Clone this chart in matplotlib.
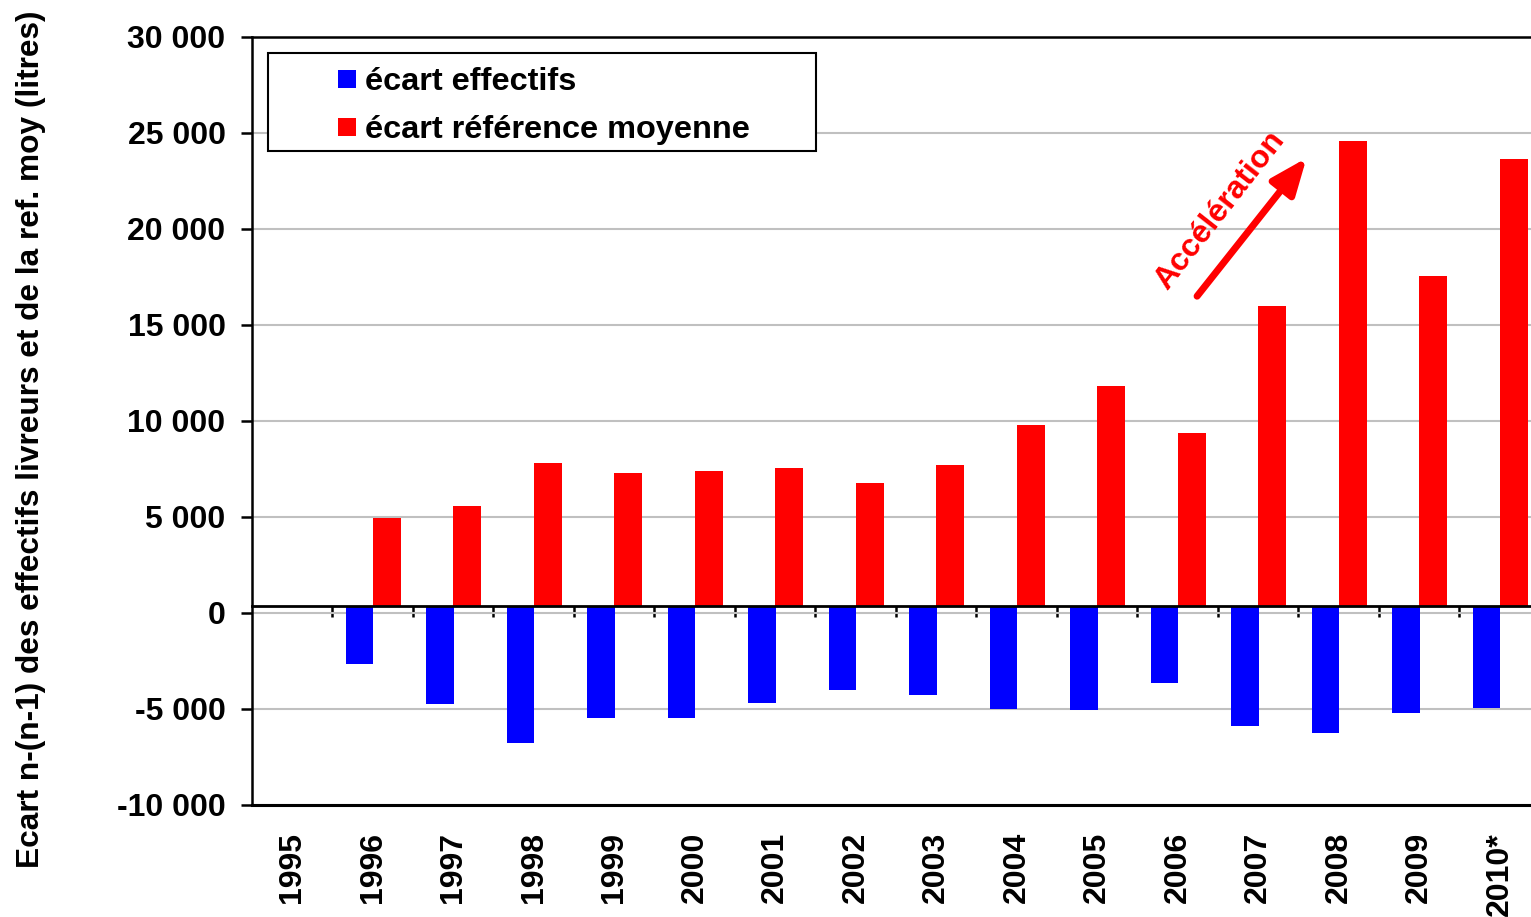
import matplotlib
matplotlib.use("Agg")
import matplotlib.pyplot as plt
from matplotlib.patches import Rectangle
from matplotlib.ticker import FixedLocator, FuncFormatter
import numpy as np

plt.rcParams['font.family'] = ['Liberation Sans', 'DejaVu Sans']
plt.rcParams['font.weight'] = 'bold'

years = ["1995", "1996", "1997", "1998", "1999", "2000", "2001", "2002", "2003",
         "2004", "2005", "2006", "2007", "2008", "2009", "2010*"]
ecart_effectifs = [np.nan, -2650, -4720, -6770, -5470, -5470, -4690, -4010, -4270,
                   -5000, -5050, -3650, -5870, -6230, -5190, -4930]
ecart_reference = [np.nan, 4950, 5570, 7810, 7290, 7400, 7550, 6770, 7710,
                   9790, 11820, 9380, 15990, 24580, 17550, 23650]
label_eff = "écart effectifs"
label_ref = "écart référence moyenne"
ylabel = "Ecart n-(n-1) des effectifs livreurs et de la ref. moy (litres)"
annot = "Accélération"
yticks = [-10000, -5000, 0, 5000, 10000, 15000, 20000, 25000, 30000]
cross = 350  # value where the category axis crosses

FS = 23

W, H = 1531, 917
fig = plt.figure(figsize=(W / 100, H / 100), dpi=100)
left, right, top, bottom = 252, 1540, 37, 805
ax = fig.add_axes([left / W, 1 - bottom / H, (right - left) / W, (bottom - top) / H])

x = np.arange(len(years))
w = 0.345
eff = np.array(ecart_effectifs, dtype=float)
ref = np.array(ecart_reference, dtype=float)
ax.bar(x - 0.165, eff - cross, bottom=cross, width=w, color='#0000FF', zorder=3)
ax.bar(x + 0.175, ref - cross, bottom=cross, width=w, color='#FF0000', zorder=3)

ax.set_xlim(-0.5, len(years) - 0.5)
ax.set_ylim(-10000, 30000)

# grid
ax.yaxis.set_major_locator(FixedLocator(yticks))
ax.grid(axis='y', color='#c0c0c0', linewidth=1.5, zorder=0)
ax.set_axisbelow(True)
ax.yaxis.set_major_formatter(FuncFormatter(lambda v, p: f"{int(v):,}".replace(",", " ")))
ax.tick_params(axis='y', direction='out', length=8, width=1.8, pad=11,
               labelsize=FS)
for lab in ax.get_yticklabels():
    lab.set_fontweight('bold')

# spines
for s in ['left', 'top']:
    ax.spines[s].set_linewidth(1.8)
    ax.spines[s].set_color('black')
ax.spines['right'].set_visible(False)
ax.spines['bottom'].set_position(('data', cross))
ax.spines['bottom'].set_linewidth(2.0)
ax.spines['bottom'].set_zorder(4)
ax.axhline(-10000, color='black', linewidth=2.2, clip_on=False, zorder=5)

# category axis ticks at boundaries
ax.xaxis.set_major_locator(FixedLocator(np.arange(0.5, len(years) - 0.5, 1.0)))
ax.xaxis.set_major_formatter(FuncFormatter(lambda v, p: ""))
ax.tick_params(axis='x', direction='out', length=8, width=1.8, color='black')

for i, yr in enumerate(years):
    ax.text(i, -0.035, yr, transform=ax.get_xaxis_transform(), rotation=90,
            ha='center', va='top', fontsize=FS, fontweight='bold')

fig.text(31 / W, 1 - 439 / H, ylabel, rotation=90, ha='center', va='center',
         fontsize=22.8, fontweight='bold')

# legend frame + entries
fig.patches.append(Rectangle((268 / W, 1 - 151 / H), (816 - 268) / W, (151 - 53) / H,
                             transform=fig.transFigure, facecolor='white',
                             edgecolor='black', linewidth=1.5, zorder=6))
for yc, col, lab in [(79, '#0000FF', label_eff), (127, '#FF0000', label_ref)]:
    fig.patches.append(Rectangle((338 / W, 1 - (yc + 9) / H), 18 / W, 18 / H,
                                 transform=fig.transFigure, facecolor=col,
                                 edgecolor='none', zorder=7))
    fig.text(365 / W, 1 - (yc + 3) / H, lab, ha='left', va='center', fontsize=23.4,
             fontweight='bold', zorder=8)

# annotation arrow + text
ax.annotate("", xy=(12.6, 23700), xytext=(11.24, 16500),
            arrowprops=dict(arrowstyle='-|>,head_length=1.1,head_width=0.45',
                            mutation_scale=20, color='#FF0000', lw=5,
                            shrinkA=0, shrinkB=0), zorder=6)
ax.text(11.52, 20950, annot, rotation=52, ha='center', va='center', color='#FF0000',
        fontsize=FS, fontweight='bold', rotation_mode='anchor', zorder=6)

fig.savefig("out.png", dpi=100)
